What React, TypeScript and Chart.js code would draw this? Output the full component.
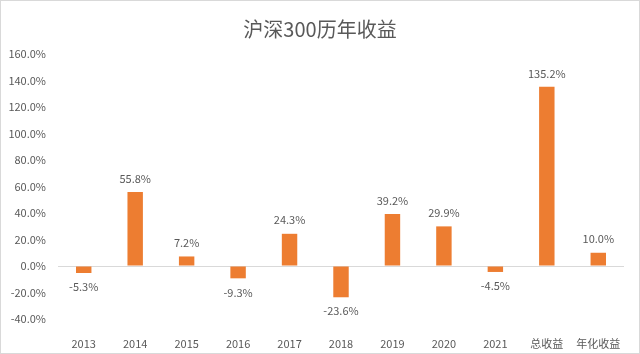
import React, { useEffect, useRef } from "react";
import { Chart, registerables } from "chart.js";

Chart.register(...registerables);

const categories = ["2013", "2014", "2015", "2016", "2017", "2018", "2019", "2020", "2021", "总收益", "年化收益"];
const returns = [-5.3, 55.8, 7.2, -9.3, 24.3, -23.6, 39.2, 29.9, -4.5, 135.2, 10.0];
const yMin = -40;
const yMax = 160;
const yStep = 20;
const titleText = "沪深300历年收益";

const FONT = "'Noto Sans CJK SC', 'Noto Sans', sans-serif";
const TEXT = "#595959";
const ORANGE = "#ED7D31";

const labelPlugin = {
  id: "barLabels",
  afterDatasetsDraw(chart: any) {
    const ctx = chart.ctx;
    const meta = chart.getDatasetMeta(0);
    ctx.save();
    ctx.font = `11px ${FONT}`;
    ctx.fillStyle = TEXT;
    ctx.textAlign = "center";
    ctx.textBaseline = "middle";
    meta.data.forEach((bar: any, i: number) => {
      const v = returns[i];
      const txt = v.toFixed(1) + "%";
      ctx.fillText(txt, bar.x, v >= 0 ? bar.y - 13.5 : bar.y + 14);
    });
    ctx.restore();
  },
};

const titlePlugin = {
  id: "customTitle",
  afterDraw(chart: any) {
    const ctx = chart.ctx;
    ctx.save();
    ctx.font = `20px ${FONT}`;
    ctx.fillStyle = TEXT;
    ctx.textAlign = "center";
    ctx.textBaseline = "middle";
    ctx.fillText(titleText, chart.width / 2, 29);
    ctx.strokeStyle = "#d9d9d9";
    ctx.lineWidth = 1;
    ctx.strokeRect(0.5, 0.5, chart.width - 1, chart.height - 1);
    ctx.restore();
  },
};

export default function App() {
  const ref = useRef<HTMLCanvasElement>(null);
  useEffect(() => {
    const chart = new Chart(ref.current as HTMLCanvasElement, {
      type: "bar",
      data: {
        labels: categories,
        datasets: [
          {
            data: returns,
            backgroundColor: ORANGE,
            barPercentage: 0.6,
            categoryPercentage: 0.5,
          },
        ],
      },
      plugins: [labelPlugin, titlePlugin],
      options: {
        animation: false,
        responsive: false,
        maintainAspectRatio: false,
        layout: { padding: { left: 8, right: 16, top: 54, bottom: 0 } },
        plugins: {
          legend: { display: false },
          tooltip: { enabled: false },
          title: { display: false },
        },
        scales: {
          x: {
            grid: { display: false },
            border: { display: false },
            afterFit: (s: any) => {
              s.height = 35;
            },
            ticks: { color: TEXT, font: { family: FONT, size: 11 }, padding: 10 },
          },
          y: {
            min: yMin,
            max: yMax,
            border: { display: false },
            afterFit: (s: any) => {
              s.width = 50;
            },
            grid: {
              drawTicks: false,
              color: (c: any) => (c.tick && c.tick.value === 0 ? "#d9d9d9" : "rgba(0,0,0,0)"),
            },
            ticks: {
              stepSize: yStep,
              color: TEXT,
              padding: 12,
              font: { family: FONT, size: 11 },
              callback: (v: any) => Number(v).toFixed(1) + "%",
            },
          },
        },
      },
    });
    return () => chart.destroy();
  }, []);
  return (
    <div style={{ position: "fixed", left: 0, top: 0, width: 640, height: 354, background: "#fff" }}>
      <canvas ref={ref} width={640} height={354} style={{ width: 640, height: 354 }} />
    </div>
  );
}
